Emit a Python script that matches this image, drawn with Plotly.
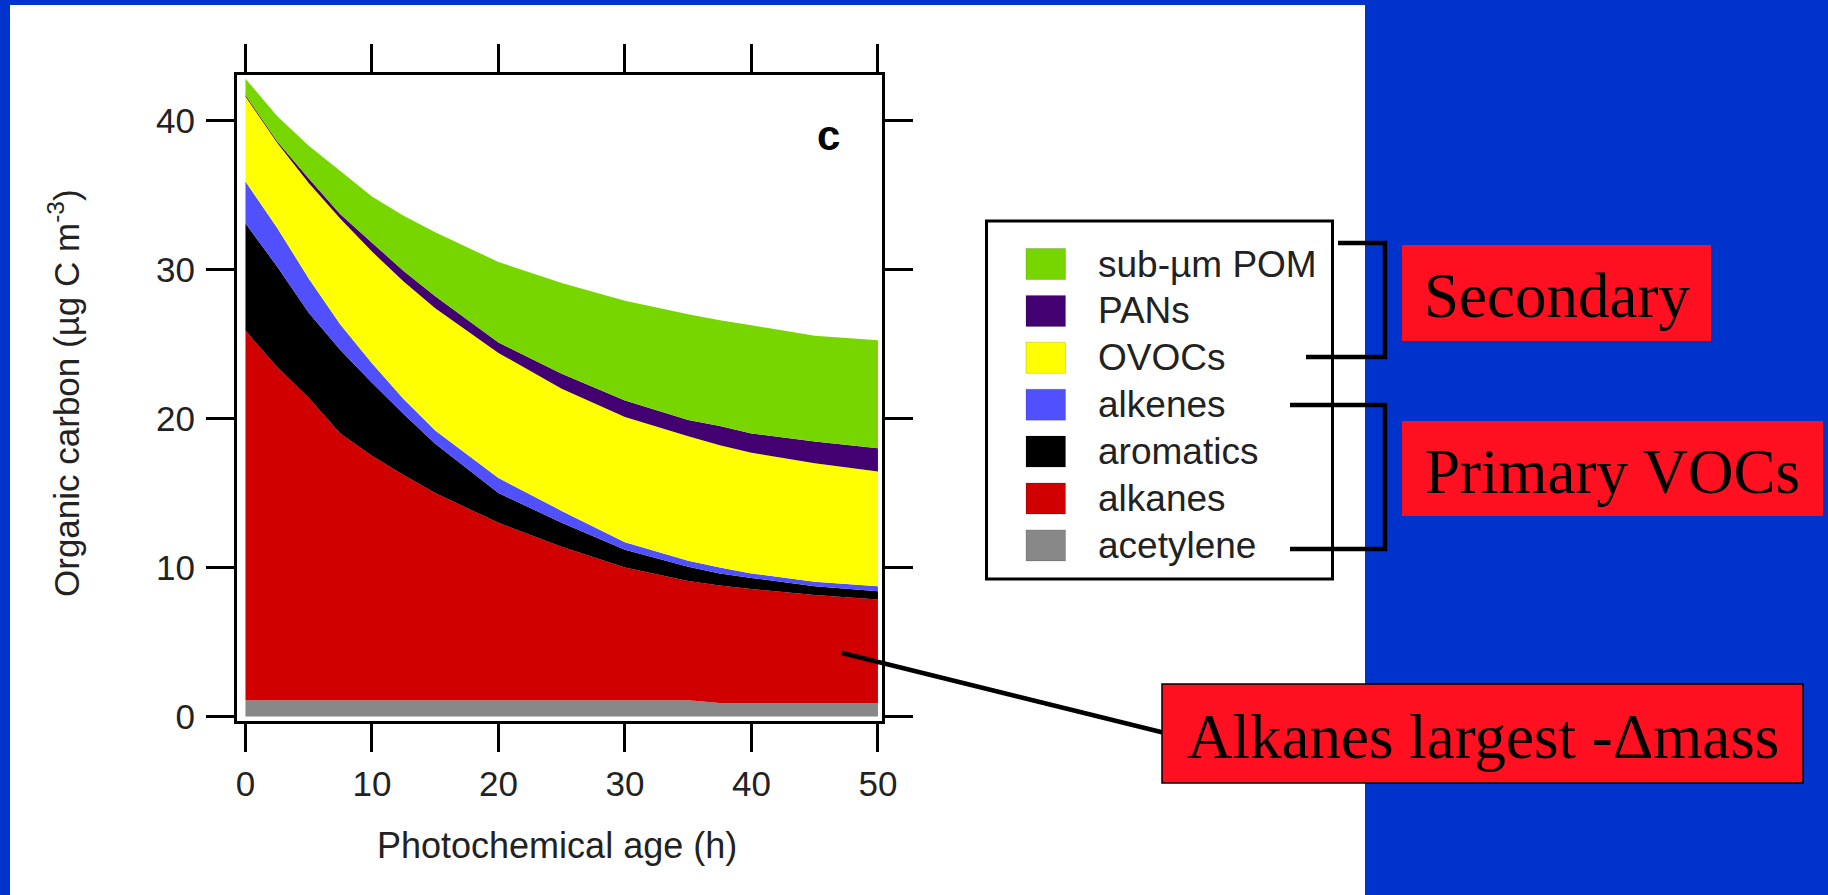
import plotly.graph_objects as go

W, H = 1828, 895

# ---------------- data ----------------
hours = [0, 2.5, 5, 7.5, 10, 12.5, 15, 20, 25, 30, 35, 37.5, 40, 45, 50]
acetylene = [1.1, 1.1, 1.1, 1.1, 1.1, 1.1, 1.1, 1.1, 1.1, 1.1, 1.1, 0.9, 0.9, 0.9, 0.9]
alkanes = [24.8, 22.35, 20.3, 17.9, 16.4, 15.1, 13.9, 11.9, 10.3, 8.9, 8.0, 7.9, 7.65, 7.25, 6.95]
aromatics = [7.2, 6.75, 5.7, 5.6, 4.9, 4.1, 3.3, 2.0, 1.6, 1.2, 0.95, 0.8, 0.75, 0.6, 0.55]
alkenes = [2.8, 2.6, 2.3, 1.7, 1.3, 1.0, 0.9, 1.0, 0.8, 0.5, 0.4, 0.4, 0.3, 0.3, 0.35]
ovocs = [5.7, 5.7, 6.4, 7.1, 7.5, 7.9, 8.2, 8.4, 8.2, 8.4, 8.35, 8.2, 8.1, 7.95, 7.7]
pans = [0.1, 0.1, 0.3, 0.3, 0.6, 0.7, 0.8, 0.7, 1.0, 1.1, 1.1, 1.3, 1.3, 1.45, 1.55]
pom = [1.1, 1.7, 2.2, 2.9, 3.1, 3.7, 4.3, 5.4, 6.1, 6.7, 7.1, 7.1, 7.25, 7.1, 7.25]

series_names = ["acetylene", "alkanes", "aromatics", "alkenes", "OVOCs", "PANs", "sub-µm POM"]
series_values = [acetylene, alkanes, aromatics, alkenes, ovocs, pans, pom]
series_colors = ["#888888", "#D00000", "#000000", "#5050FF", "#FFFF00", "#420070", "#77D600"]

x_ticks = [0, 10, 20, 30, 40, 50]
y_ticks = [0, 10, 20, 30, 40]

SANS = "Liberation Sans, Arial, Helvetica, sans-serif"
SERIF = "Liberation Serif, Times New Roman, serif"
TXT = "#222222"
BLUE = "#0033CC"
RED = "#FF1020"


def px(xp):
    return xp / W


def py(yp):
    return 1 - yp / H


fig = go.Figure()
for name, vals, col in zip(series_names, series_values, series_colors):
    fig.add_trace(go.Scatter(
        x=hours, y=vals, name=name, stackgroup="one", mode="none",
        fillcolor=col, line=dict(width=0), showlegend=False,
    ))

axis_common = dict(
    showgrid=False, zeroline=False, showline=True, linewidth=3, linecolor="black",
    mirror="ticks", ticks="outside", ticklen=28, tickwidth=3, tickcolor="black",
    tickfont=dict(family=SANS, size=35, color=TXT), automargin=False,
)

fig.update_layout(
    width=W, height=H, autosize=False,
    margin=dict(l=0, r=0, t=0, b=0, pad=0, autoexpand=False),
    paper_bgcolor=BLUE, plot_bgcolor="white",
    xaxis=dict(domain=[px(237), px(882)], range=[-0.67, 50.32], tickvals=x_ticks,
               ticklabelstandoff=2, **axis_common),
    yaxis=dict(domain=[py(721), py(75)], range=[-0.30, 43.05], tickvals=y_ticks,
               ticklabelstandoff=4, **axis_common),
    showlegend=False,
)

shapes = []
annotations = []

# white slide panel
shapes.append(dict(type="rect", xref="paper", yref="paper", x0=px(10), x1=px(1365),
                   y0=-0.05, y1=py(5), fillcolor="white", line=dict(width=0), layer="below"))

# axis titles and panel letter
annotations.append(dict(text="Photochemical age (h)", x=px(557), y=py(845.5), xref="paper", yref="paper",
                        showarrow=False, xanchor="center", yanchor="middle",
                        font=dict(family=SANS, size=36, color=TXT)))
annotations.append(dict(text="Organic carbon (µg C m<sup>-3</sup>)", x=px(64), y=py(393),
                        xref="paper", yref="paper", showarrow=False, textangle=-90,
                        xanchor="center", yanchor="middle",
                        font=dict(family=SANS, size=35, color=TXT)))
annotations.append(dict(text="<b>c</b>", x=px(828), y=py(135), xref="paper", yref="paper",
                        showarrow=False, xanchor="center", yanchor="middle",
                        font=dict(family=SANS, size=42, color="black")))

# legend box (square swatches, top entry = top of the stack)
shapes.append(dict(type="rect", xref="paper", yref="paper", x0=px(986.5), x1=px(1332.5),
                   y0=py(579), y1=py(221), fillcolor="white", line=dict(color="black", width=3)))
row0, row_step = 264, 46.9
for i, (name, col) in enumerate(zip(series_names[::-1], series_colors[::-1])):
    cy = row0 + i * row_step
    shapes.append(dict(type="rect", xref="paper", yref="paper", x0=px(1026), x1=px(1065.5),
                       y0=py(cy + 15.5), y1=py(cy - 15.5), fillcolor=col,
                       line=dict(color="rgba(0,0,0,0.15)", width=1)))
    annotations.append(dict(text=name, x=px(1096), y=py(cy), xref="paper", yref="paper",
                            showarrow=False, xanchor="left", yanchor="middle",
                            font=dict(family=SANS, size=37, color=TXT)))

# brackets
line_blk = dict(color="black", width=4.5)
shapes.append(dict(type="path", xref="paper", yref="paper",
                   path=f"M {px(1338)},{py(243)} L {px(1385)},{py(243)} L {px(1385)},{py(357)} L {px(1306)},{py(357)}",
                   line=line_blk))
shapes.append(dict(type="path", xref="paper", yref="paper",
                   path=f"M {px(1290)},{py(405)} L {px(1385)},{py(405)} L {px(1385)},{py(549)} L {px(1290)},{py(549)}",
                   line=line_blk))

# pointer line from alkanes area to callout
shapes.append(dict(type="line", xref="paper", yref="paper", x0=px(842), y0=py(653),
                   x1=px(1165), y1=py(733), line=dict(color="black", width=4.5)))

# red callout boxes
callouts = [
    ("Secondary", 1402, 1711, 245, 341, 0),
    ("Primary VOCs", 1402, 1823, 421, 516, 0),
    ("Alkanes largest -Δmass", 1162, 1803, 684, 783, 1.5),
]
for text, x0, x1, y0, y1, bw in callouts:
    shapes.append(dict(type="rect", xref="paper", yref="paper", x0=px(x0), x1=px(x1),
                       y0=py(y1), y1=py(y0), fillcolor=RED,
                       line=dict(color="black", width=bw) if bw else dict(width=0)))
    annotations.append(dict(text=text, x=px((x0 + x1) / 2), y=py((y0 + y1) / 2 + 3),
                            xref="paper", yref="paper", showarrow=False,
                            xanchor="center", yanchor="middle",
                            font=dict(family=SERIF, size=63, color="black")))

fig.update_layout(shapes=shapes, annotations=annotations)
fig.write_html("out.html")
